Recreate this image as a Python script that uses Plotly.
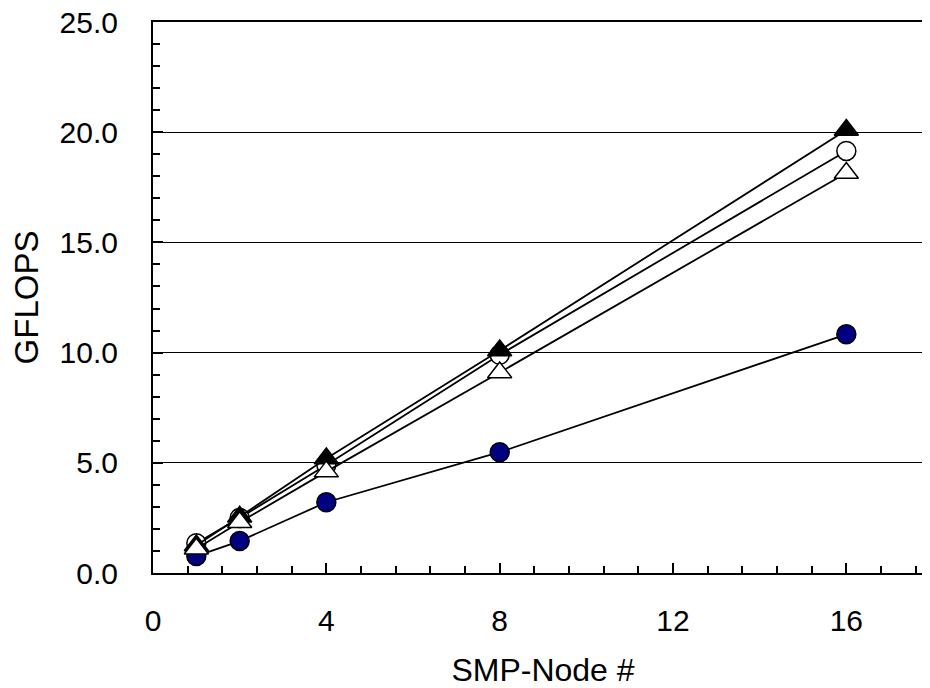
import plotly.graph_objects as go

nodes = [1, 2, 4, 8, 16]
series_filled_tri = [1.25, 2.55, 5.2, 10.1, 20.1]
series_open_circle = [1.35, 2.5, 4.9, 9.9, 19.15]
series_open_tri = [1.1, 2.3, 4.6, 9.1, 18.15]
series_navy_circle = [0.77, 1.45, 3.21, 5.48, 10.83]

x_tickvals = [0, 4, 8, 12, 16]
y_tickvals = [0, 5, 10, 15, 20, 25]
y_ticktext = ["0.0", "5.0", "10.0", "15.0", "20.0", "25.0"]

FONT = "Liberation Sans, Arial, sans-serif"

fig = go.Figure()

def add(y, symbol, fill, size):
    fig.add_trace(go.Scatter(
        x=nodes, y=y, mode="lines+markers",
        line=dict(color="black", width=1.8),
        marker=dict(symbol=symbol, size=size, color=fill,
                    line=dict(color="black", width=1.5)),
        showlegend=False, cliponaxis=False,
    ))

add(series_navy_circle, "circle", "#000080", 19)
add(series_open_circle, "circle", "white", 19)
add(series_filled_tri, "triangle-up", "black", 21)
add(series_open_tri, "triangle-up", "white", 21)

fig.update_layout(
    width=930, height=688,
    margin=dict(l=145, r=5, t=14, b=123, autoexpand=False),
    paper_bgcolor="white", plot_bgcolor="white",
    font=dict(family=FONT, size=30, color="black"),
    xaxis=dict(
        range=[0, 18], tickvals=x_tickvals, ticktext=[str(v) for v in x_tickvals],
        ticks="inside", ticklen=10, tickwidth=2, tickcolor="black",
        showline=True, linecolor="black", linewidth=2, mirror=True,
        showgrid=False, zeroline=False, automargin=False,
        minor=dict(dtick=0.8, tick0=0, ticks="inside", ticklen=7, tickwidth=1.5,
                   tickcolor="black", showgrid=False),
        tickfont=dict(size=30), ticklabelstandoff=20, ticklabeloverflow="allow",
        title=dict(text="SMP-Node #", font=dict(size=32), standoff=23),
    ),
    yaxis=dict(
        range=[0, 25], tickvals=y_tickvals, ticktext=y_ticktext,
        ticks="inside", ticklen=10, tickwidth=2, tickcolor="black",
        showline=True, linecolor="black", linewidth=2, mirror=True,
        showgrid=True, gridcolor="black", gridwidth=1, zeroline=False, automargin=False,
        minor=dict(dtick=1, tick0=0, ticks="inside", ticklen=7, tickwidth=1.5,
                   tickcolor="black", showgrid=False),
        tickfont=dict(size=30), ticklabelstandoff=27, ticklabeloverflow="allow",
        title=dict(text="GFLOPS", font=dict(size=33), standoff=17),
    ),
)

fig.write_html("out.html")
